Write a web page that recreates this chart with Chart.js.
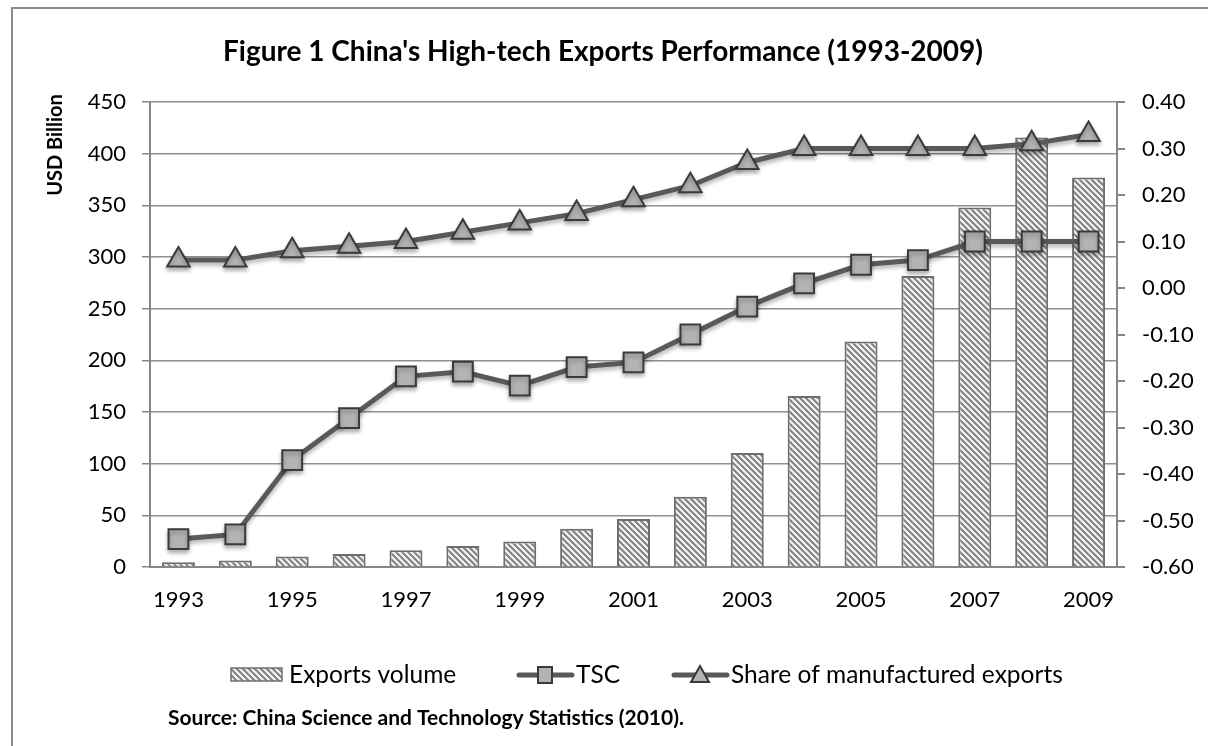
<!DOCTYPE html>
<html>
<head>
<meta charset="utf-8">
<script src="https://cdn.jsdelivr.net/npm/chart.js@4/dist/chart.umd.min.js"></script>
<style>
  html, body { margin: 0; padding: 0; background: #fff; }
  #wrap { position: relative; width: 1208px; height: 746px; }
</style>
</head>
<body>
<div id="wrap"><canvas id="hiTechChart"></canvas></div>
<script>
// values
const years = ['1993', '1994', '1995', '1996', '1997', '1998', '1999', '2000', '2001',
               '2002', '2003', '2004', '2005', '2006', '2007', '2008', '2009'];
const exportsVolume = [4.7, 6.3, 10.1, 12.7, 16.3, 20.3, 24.7, 37.0, 46.5,
                       67.9, 110.3, 165.5, 218.3, 281.5, 347.8, 415.6, 376.9];
const tscValues = [-0.54, -0.53, -0.37, -0.28, -0.19, -0.18, -0.21, -0.17, -0.16,
                   -0.10, -0.04, 0.01, 0.05, 0.06, 0.10, 0.10, 0.10];
const shareValues = [0.06, 0.06, 0.08, 0.09, 0.10, 0.12, 0.14, 0.16, 0.19,
                     0.22, 0.27, 0.30, 0.30, 0.30, 0.30, 0.31, 0.33];
const seriesNames = ['Exports volume', 'TSC', 'Share of manufactured exports'];
const leftRange = [0, 450, 50];
const rightRange = [-0.6, 0.4, 0.1];

const FONT = 'Lato, "Open Sans", sans-serif';
const LINE_COLOR = '#595959';
const MARKER_FILL = '#b3b3b3';
const MARKER_EDGE = '#3a3a3a';
const AXIS_COLOR = '#868686';

function makeHatch() {
    const c = document.createElement('canvas');
    c.width = 6;
    c.height = 6;
    const g = c.getContext('2d');
    g.fillStyle = '#f4f4f4';
    g.fillRect(0, 0, 6, 6);
    g.strokeStyle = '#808080';
    g.lineWidth = 2;
    g.beginPath();
    g.moveTo(-1, -1); g.lineTo(7, 7);
    g.moveTo(-1, 5); g.lineTo(1, 7);
    g.moveTo(5, -1); g.lineTo(7, 1);
    g.stroke();
    return g.createPattern(c, 'repeat');
}
const hatch = makeHatch();

function drawMarker(ctx, style, x, y) {
    ctx.save();
    ctx.fillStyle = MARKER_FILL;
    ctx.strokeStyle = MARKER_EDGE;
    ctx.lineWidth = 2;
    ctx.beginPath();
    if (style === 'rect') {
        ctx.rect(x - 7, y - 8, 14, 16);
    } else {
        ctx.moveTo(x, y - 9);
        ctx.lineTo(x + 9, y + 7);
        ctx.lineTo(x - 9, y + 7);
        ctx.closePath();
    }
    ctx.fill();
    ctx.stroke();
    ctx.restore();
}

// frame, title, axis title, legend and source note
const decorations = {
    id: 'decorations',
    beforeDatasetDraw(chart, args) {
        if (args.meta.type === 'line') {
            const ctx = chart.ctx;
            ctx.save();
            ctx.shadowColor = 'rgba(0,0,0,0.3)';
            ctx.shadowBlur = 4;
            ctx.shadowOffsetY = 3;
        }
    },
    afterDatasetDraw(chart, args) {
        if (args.meta.type === 'line') chart.ctx.restore();
    },
    afterDraw(chart) {
        const ctx = chart.ctx;
        ctx.save();
        // outer frame
        ctx.strokeStyle = '#8c8c8c';
        ctx.lineWidth = 2;
        ctx.beginPath();
        ctx.moveTo(12, 746);
        ctx.lineTo(12, 8);
        ctx.lineTo(1208, 8);
        ctx.stroke();

        ctx.fillStyle = '#000';
        ctx.textBaseline = 'middle';
        ctx.textAlign = 'center';
        ctx.font = 'bold 28px ' + FONT;
        ctx.fillText("Figure 1 China's High-tech Exports Performance (1993-2009)", 603, 52);

        ctx.save();
        ctx.translate(56, 145);
        ctx.rotate(-Math.PI / 2);
        ctx.font = 'bold 20px ' + FONT;
        ctx.fillText('USD Billion', 0, 0);
        ctx.restore();

        // legend
        const ly = 675;
        ctx.font = '24.5px ' + FONT;
        ctx.textAlign = 'left';
        ctx.fillStyle = hatch;
        ctx.fillRect(231, 668, 51, 13);
        ctx.strokeStyle = '#707070';
        ctx.lineWidth = 1.5;
        ctx.strokeRect(231, 668, 51, 13);
        ctx.fillStyle = '#000';
        ctx.fillText(seriesNames[0], 289, ly);

        ctx.strokeStyle = LINE_COLOR;
        ctx.lineWidth = 5;
        ctx.lineCap = 'round';
        ctx.beginPath();
        ctx.moveTo(519, ly); ctx.lineTo(572, ly);
        ctx.moveTo(674, ly); ctx.lineTo(727, ly);
        ctx.stroke();
        drawMarker(ctx, 'rect', 545, ly);
        drawMarker(ctx, 'triangle', 700, ly);
        ctx.fillStyle = '#000';
        ctx.fillText(seriesNames[1], 576, ly);
        ctx.fillText(seriesNames[2], 731, ly);

        ctx.font = 'bold 21px ' + FONT;
        ctx.fillText('Source: China Science and Technology Statistics (2010).', 168, 718);
        ctx.restore();
    }
};

const ctx = document.getElementById('hiTechChart').getContext('2d');
new Chart(ctx, {
    data: {
        labels: years,
        datasets: [
            {
                type: 'bar',
                label: seriesNames[0],
                data: exportsVolume,
                yAxisID: 'y',
                backgroundColor: hatch,
                borderColor: '#6e6e6e',
                borderWidth: 2,
                barPercentage: 0.58,
                categoryPercentage: 1,
                order: 3
            },
            {
                type: 'line',
                label: seriesNames[1],
                data: tscValues,
                yAxisID: 'y1',
                borderColor: LINE_COLOR,
                borderWidth: 5,
                pointStyle: 'rect',
                pointRadius: 14,
                pointBackgroundColor: MARKER_FILL,
                pointBorderColor: MARKER_EDGE,
                pointBorderWidth: 2,
                tension: 0,
                order: 2
            },
            {
                type: 'line',
                label: seriesNames[2],
                data: shareValues,
                yAxisID: 'y1',
                borderColor: LINE_COLOR,
                borderWidth: 5,
                pointStyle: 'triangle',
                pointRadius: 13,
                pointBackgroundColor: MARKER_FILL,
                pointBorderColor: MARKER_EDGE,
                pointBorderWidth: 2,
                tension: 0,
                order: 1
            }
        ]
    },
    options: {
        responsive: true,
        maintainAspectRatio: false,
        animation: false,
        layout: { padding: { top: 102, bottom: 129, left: 0, right: 0 } },
        plugins: {
            legend: { display: false },
            tooltip: { enabled: false }
        },
        scales: {
            x: {
                grid: { display: false, drawTicks: false },
                border: { display: true, color: AXIS_COLOR, width: 2 },
                ticks: {
                    autoSkip: false,
                    maxRotation: 0,
                    padding: 20,
                    color: '#000',
                    font: { family: FONT, size: 22 },
                    callback: function (value, index) {
                        return index % 2 === 0 ? this.getLabelForValue(value) : '';
                    }
                },
                afterFit: (scale) => { scale.height = 50; }
            },
            y: {
                position: 'left',
                min: leftRange[0],
                max: leftRange[1],
                ticks: {
                    stepSize: leftRange[2],
                    padding: 16,
                    color: '#000',
                    font: { family: FONT, size: 22 }
                },
                grid: { color: '#8f8f8f', lineWidth: 1.5, tickLength: 8, tickColor: AXIS_COLOR },
                border: { color: AXIS_COLOR, width: 2 },
                afterFit: (scale) => { scale.width = 150; }
            },
            y1: {
                position: 'right',
                min: rightRange[0],
                max: rightRange[1],
                ticks: {
                    stepSize: rightRange[2],
                    padding: 17,
                    color: '#000',
                    font: { family: FONT, size: 22 },
                    callback: (value) => value.toFixed(2)
                },
                grid: { drawOnChartArea: false, tickLength: 8, color: AXIS_COLOR, lineWidth: 2 },
                border: { color: AXIS_COLOR, width: 2 },
                afterFit: (scale) => { scale.width = 91; }
            }
        }
    },
    plugins: [decorations]
});
</script>
</body>
</html>
